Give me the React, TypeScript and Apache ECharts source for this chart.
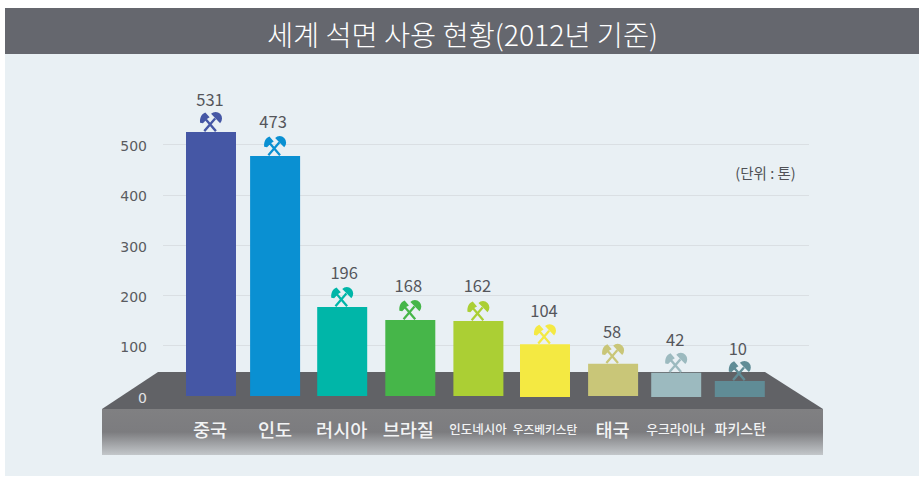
import React, { useEffect, useRef } from "react";
import * as echarts from "echarts";

const categories = ["중국", "인도", "러시아", "브라질", "인도네시아", "우즈베키스탄", "태국", "우크라이나", "파키스탄"];
// the figures printed above the bars
const printedValues = [531, 473, 196, 168, 162, 104, 58, 42, 10];
// the bars are not drawn to their printed figure: these are the heights read against the y axis
const barHeights = [525, 477, 177, 151, 149, 103, 64, 46, 30];
const barColors = ["#4557A5", "#0A90D2", "#00B6A8", "#46B649", "#ABCF34", "#F4E942", "#C9C678", "#9CBABF", "#608C96"];

// layout: hand-drawn source spacing relative to a regular band
const barNudge = [0, -2, -1, 1, 3, 3.5, 5.5, 2.5, 0];
const baseNudge = [0, 0, 0, 0, 0, 1, 0, 1, 1];
const labelNudge = [-1, -2, -1.5, -1, 2.5, 3.5, 5, 2, 0.5];
const valueDx = [-1, -2, 2, -2, -1, -1, -1, -1, -2];
const valueDy = [33, 35, 35, 35, 36, 34, 33, 34, 33];
const catFont = [18.6, 18.6, 18.6, 18.6, 12.5, 11.7, 18.6, 12.8, 14];

const KR = '"Noto Sans CJK KR", sans-serif';
const HAMMERS =
  "M4.8 7L6.6 5.4L18 18.4L16.2 20Z M15.4 5.4L17.2 7L5.8 20L4 18.4Z M0.5 10.5C0 5.5 2 1.5 6 0L10.5 5L8 6.5L3.5 11Z M12 1.5A6.6 6.6 0 0 1 21.5 11L16.5 6Z";

export default function App() {
  const ref = useRef<HTMLDivElement>(null);
  useEffect(() => {
    const chart = echarts.init(ref.current!, undefined, { renderer: "svg" });
    const rich: any = {};
    categories.forEach((_, i) => {
      const n = labelNudge[i];
      rich["s" + i] = {
        color: "#F2F3F4",
        fontFamily: KR,
        fontSize: catFont[i],
        fontWeight: 500,
        lineHeight: 24,
        padding: n >= 0 ? [0, 0, 0, 2 * n] : [0, -2 * n, 0, 0],
      };
    });
    const tickStyle = {
      fontFamily: '"DejaVu Sans", sans-serif',
      fontSize: 14,
      padding: [3, 0, 0, 0],
    };
    chart.setOption({
      animation: false,
      title: {
        text: "세계 석면 사용 현황(2012년 기준)",
        left: 457.5,
        top: 14,
        textAlign: "center",
        textStyle: { color: "#FFFFFF", fontFamily: KR, fontSize: 28.4, fontWeight: 300 },
      },
      grid: [
        { left: 163, width: 646, top: 144.5, height: 251.5 },
        { left: 177.95, width: 594.9, top: 94.2, height: 301.8 },
      ],
      xAxis: [
        { type: "category", gridIndex: 0, show: false, data: categories },
        {
          type: "category",
          gridIndex: 1,
          data: categories,
          axisLine: { show: false },
          axisTick: { show: false },
          axisLabel: {
            interval: 0,
            margin: 20,
            formatter: (v: string) => `{s${categories.indexOf(v)}|${v}}`,
            rich,
          },
        },
      ],
      yAxis: [
        {
          type: "value",
          gridIndex: 0,
          min: 0,
          max: 500,
          interval: 100,
          axisLine: { show: false },
          axisTick: { show: false },
          splitLine: { showMinLine: false, lineStyle: { color: "#DADFE3", width: 1 } },
          axisLabel: {
            margin: 16,
            formatter: (v: number) => (v === 0 ? `{z|${v}}` : `{t|${v}}`),
            rich: {
              t: { ...tickStyle, color: "#5A5B60" },
              z: { ...tickStyle, color: "#E2E3E5" },
            },
          },
        },
        { type: "value", gridIndex: 1, min: 0, max: 600, interval: 100, show: false },
      ],
      graphic: [
        { type: "rect", z: -3, shape: { x: 5, y: 54, width: 914, height: 422 }, style: { fill: "#E9F0F4" } },
        { type: "rect", z: -3, shape: { x: 5, y: 8, width: 914, height: 46 }, style: { fill: "#65676E" } },
        {
          type: "polygon",
          z: -2,
          shape: { points: [[158, 372], [765, 372], [823, 409], [102, 409]] },
          style: { fill: "#616266" },
        },
        {
          type: "rect",
          z: -2,
          shape: { x: 102, y: 409, width: 721, height: 46 },
          style: {
            fill: new echarts.graphic.LinearGradient(0, 0, 0, 1, [
              { offset: 0, color: "#808082" },
              { offset: 0.5, color: "#7C7C7F" },
              { offset: 1, color: "#C3C7CA" },
            ]),
          },
        },
        {
          type: "text",
          x: 765.5,
          y: 172,
          style: {
            text: "(단위 : 톤)",
            fill: "#4F5055",
            font: `14.5px ${KR}`,
            align: "center",
            verticalAlign: "middle",
          },
        },
      ],
      series: [
        {
          type: "custom",
          xAxisIndex: 1,
          yAxisIndex: 1,
          clip: false,
          data: barHeights.map((h, i) => [i, h, printedValues[i]]),
          encode: { x: 0, y: 1 },
          renderItem: (_p: any, api: any) => {
            const i = api.value(0);
            const [cx, top] = api.coord([i, api.value(1)]);
            const [, base] = api.coord([i, 0]);
            const x = cx + barNudge[i];
            const color = barColors[i];
            return {
              type: "group",
              children: [
                {
                  type: "rect",
                  shape: { x: x - 25, y: top, width: 50, height: base + baseNudge[i] - top },
                  style: { fill: color },
                },
                {
                  type: "path",
                  shape: { pathData: HAMMERS, x: x - 11, y: top - 20, width: 22, height: 20, layout: "cover" },
                  style: { fill: color },
                },
                {
                  type: "text",
                  x: x + valueDx[i],
                  y: top - valueDy[i],
                  style: {
                    text: String(api.value(2)),
                    fill: "#55565B",
                    font: `16.5px ${KR}`,
                    align: "center",
                    verticalAlign: "middle",
                  },
                },
              ],
            };
          },
        },
      ],
    });
    return () => chart.dispose();
  }, []);
  return <div ref={ref} style={{ position: "absolute", left: 0, top: 0, width: 919, height: 477 }} />;
}
